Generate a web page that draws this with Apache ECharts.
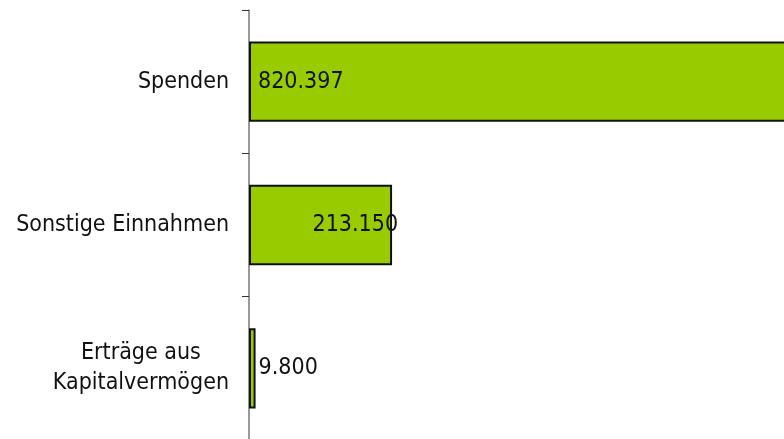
<!DOCTYPE html>
<html>
<head>
<meta charset="utf-8">
<script src="https://cdn.jsdelivr.net/npm/echarts@6/dist/echarts.min.js"></script>
<style>html,body{margin:0;padding:0;background:#fff}#c{width:784px;height:439px}</style>
</head>
<body>
<div id="c"></div>
<script>
var categories = ['Spenden', 'Sonstige Einnahmen', 'Erträge aus\nKapitalvermögen'];
var values = [820397, 213150, 9800];
var labelPlacement = ['insideLeft', 'insideRight', 'right'];

var FONT = '"DejaVu Sans Condensed", "DejaVu Sans", sans-serif';
function fmt(v) { return String(v).replace(/\B(?=(\d{3})+(?!\d))/g, '.'); }

var chart = echarts.init(document.getElementById('c'), null, {renderer: 'canvas'});
var data = values.map(function (v, i) {
  var lbl = {position: labelPlacement[i]};
  if (labelPlacement[i] === 'insideLeft') { lbl.distance = 9; }
  if (labelPlacement[i] === 'insideRight') { lbl.distance = 0; lbl.offset = [6, 0]; }
  if (labelPlacement[i] === 'right') { lbl.distance = 3; }
  return {value: v, label: lbl};
});
chart.setOption({
  animation: false,
  grid: {left: 249, right: -12, top: 10, bottom: -1, containLabel: false, outerBoundsMode: 'none'},
  xAxis: {type: 'value', min: 0, max: 815000, show: false},
  yAxis: {
    type: 'category', data: categories, inverse: true,
    axisLine: {show: true, lineStyle: {color: '#777', width: 1.5}},
    axisTick: {show: true, inside: false, length: 7, lineStyle: {color: '#333', width: 1}},
    axisLabel: {
      margin: 20, color: '#111', fontFamily: FONT, fontSize: 23, lineHeight: 30,
      formatter: function (v) {
        return v.split('\n').map(function (s) { return '{c|' + s + '}'; }).join('\n');
      },
      rich: {c: {align: 'center', fontFamily: FONT, fontSize: 23, lineHeight: 30, color: '#111'}}
    },
    splitLine: {show: false}
  },
  series: [{
    type: 'bar', data: data, clip: true, barCategoryGap: '44%',
    itemStyle: {color: '#99CC00', borderColor: '#111', borderWidth: 2},
    label: {show: true, color: '#111', fontFamily: FONT, fontSize: 23, formatter: function (p) { return fmt(p.value); }}
  }]
});
</script>
</body>
</html>
